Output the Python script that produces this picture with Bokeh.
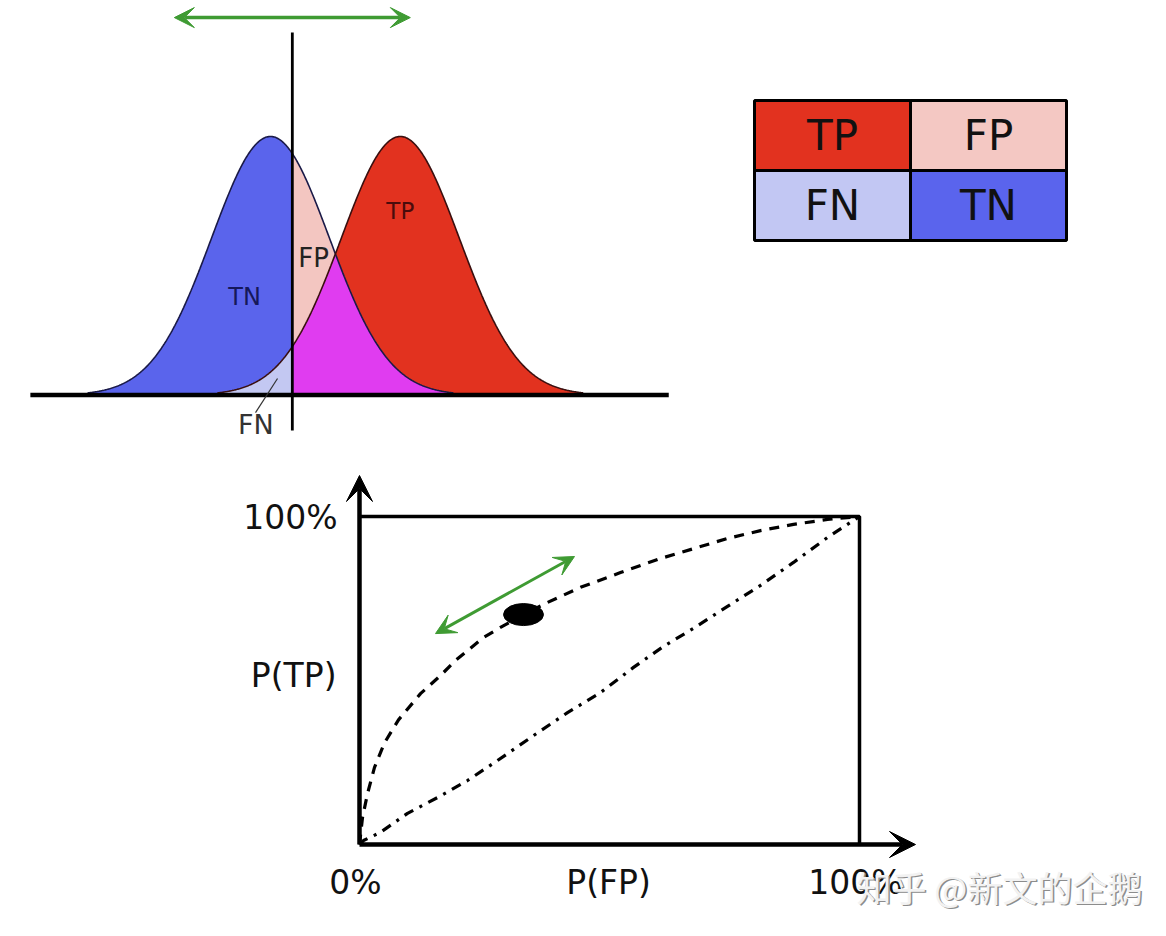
import numpy as np
from bokeh.plotting import figure
from bokeh.layouts import column, row
from bokeh.models import Range1d, Arrow, VeeHead
from bokeh.core.properties import value
from bokeh.embed import file_html
from bokeh.resources import INLINE

# ---------------- data ----------------
# class-score distributions (in units of sigma)
neg_mean = 0.0
pos_mean = 2.2
sigma = 1.0
threshold = 0.37
tail = 3.1

region_labels = ["TN", "FP", "TP", "FN"]
region_label_x = [-0.44, 0.73, 2.2, -0.25]
region_label_y = [0.38, 0.53, 0.71, -0.115]
region_label_colors = ["#16185a", "#222222", "#4a0c0c", "#333333"]
region_label_sizes = ["24px", "26px", "23px", "27px"]

# confusion matrix
cm_labels = ["TP", "FP", "FN", "TN"]
cm_col = [0, 1, 0, 1]
cm_row = [1, 1, 0, 0]
cm_colors = ["#e2321f", "#f4c8c3", "#c2c7f3", "#5a64ed"]

# ROC curve (dashed) and chance-like curve (dash-dot)
roc_fpr = [0.0, 0.006, 0.016, 0.030, 0.050, 0.078, 0.122, 0.162, 0.192, 0.248,
           0.282, 0.328, 0.376, 0.442, 0.522, 0.602, 0.668, 0.736, 0.802, 0.868,
           0.936, 1.0]
roc_tpr = [0.0, 0.082, 0.155, 0.235, 0.310, 0.380, 0.460, 0.515, 0.561, 0.631,
           0.662, 0.701, 0.738, 0.784, 0.829, 0.872, 0.902, 0.933, 0.957, 0.976,
           0.991, 1.0]
diag_fpr = [0.0, 0.008, 0.042, 0.096, 0.156, 0.216, 0.276, 0.348, 0.416, 0.482,
            0.548, 0.608, 0.668, 0.736, 0.802, 0.868, 0.936, 1.0]
diag_tpr = [0.0, 0.012, 0.037, 0.095, 0.143, 0.195, 0.256, 0.332, 0.402, 0.463,
            0.540, 0.604, 0.659, 0.726, 0.790, 0.860, 0.936, 1.0]
op_fpr = [0.328]
op_tpr = [0.701]

roc_tick_labels = ["0%", "100%"]
roc_axis_titles = ["P(FP)", "P(TP)"]

watermark = "知乎 @新文的企鹅"

FONT = value("DejaVu Sans")
GREEN = "#3f9b33"


def make_fig(w, h, xr, yr):
    p = figure(width=w, height=h, x_range=Range1d(*xr), y_range=Range1d(*yr),
               output_backend="svg", toolbar_location=None, min_border=0,
               x_axis_type=None, y_axis_type=None)
    p.grid.visible = False
    p.outline_line_color = None
    p.background_fill_color = "white"
    p.border_fill_color = "white"
    return p


def green_arrow(x0, y0, x1, y1, w, s):
    return Arrow(x_start=x0, y_start=y0, x_end=x1, y_end=y1,
                 line_color=GREEN, line_width=w,
                 start=VeeHead(size=s, fill_color=GREEN, line_color=GREEN, line_width=1),
                 end=VeeHead(size=s, fill_color=GREEN, line_color=GREEN, line_width=1))


# ---------------- distribution panel ----------------
pd_ = make_fig(700, 450, (-4.5763, 7.2881), (-0.2147, 1.5261))


def gauss(x, m):
    return np.exp(-0.5 * ((x - m) / sigma) ** 2)


xl = np.linspace(neg_mean - tail, threshold, 300)
xr = np.linspace(threshold, pos_mean + tail, 500)
bl, rl = gauss(xl, neg_mean), gauss(xl, pos_mean)
br, rr = gauss(xr, neg_mean), gauss(xr, pos_mean)
rl = np.where(xl >= pos_mean - tail, rl, 0.0)
br = np.where(xr <= neg_mean + tail, br, 0.0)

pd_.varea(x=xl, y1=0, y2=bl, fill_color="#5a64ec")
pd_.varea(x=xl, y1=0, y2=rl, fill_color="#c3c8f2")
pd_.varea(x=xr, y1=0, y2=rr, fill_color="#e2321f")
pd_.varea(x=xr, y1=np.minimum(br, rr), y2=br, fill_color="#f3c6c1")
pd_.varea(x=xr, y1=0, y2=np.minimum(br, rr), fill_color="#e03cf0")

xb = np.linspace(neg_mean - tail, neg_mean + tail, 500)
xp = np.linspace(pos_mean - tail, pos_mean + tail, 500)
pd_.line(xb, gauss(xb, neg_mean), line_color="#1a1a48", line_width=1.6)
pd_.line(xp, gauss(xp, pos_mean), line_color="#3a0f0f", line_width=1.6)

# baseline and threshold
pd_.line([-4.07, 6.75], [0, 0], line_color="black", line_width=4.5)
pd_.line([threshold, threshold], [-0.137, 1.402], line_color="black", line_width=2.8)

# FN leader
pd_.line([-0.254, 0.119], [-0.068, 0.064], line_color="#333333", line_width=1.2)

pd_.text(x=region_label_x, y=region_label_y, text=region_labels,
         text_color=region_label_colors, text_font=FONT,
         text_font_size=region_label_sizes,
         text_align="center", text_baseline="middle")

pd_.add_layout(green_arrow(threshold - 2.0, 1.46, threshold + 2.0, 1.46, 3.5, 20))

# ---------------- confusion matrix panel ----------------
pc = make_fig(450, 450, (-0.3462, 2.5385), (-3.0, 3.4286))
pc.quad(left=cm_col, right=[c + 1 for c in cm_col], bottom=cm_row,
        top=[r + 1 for r in cm_row], fill_color=cm_colors, line_color="black",
        line_width=3)
pc.text(x=[c + 0.5 for c in cm_col], y=[r + 0.5 for r in cm_row], text=cm_labels,
        text_color="#111111", text_font=FONT, text_font_size="42px",
        text_align="center", text_baseline="middle")

# ---------------- ROC panel ----------------
pr = make_fig(1150, 470, (-0.718, 1.582), (-0.2317, 1.2012))

pr.line([0, 1, 1], [1, 1, 0], line_color="black", line_width=3.5)
pr.add_layout(Arrow(x_start=0, y_start=0, x_end=0, y_end=1.125, line_color="black",
                    line_width=4.5,
                    end=VeeHead(size=26, fill_color="black", line_color="black")))
pr.add_layout(Arrow(x_start=0, y_start=0, x_end=1.112, y_end=0, line_color="black",
                    line_width=4.5,
                    end=VeeHead(size=26, fill_color="black", line_color="black")))

pr.line(diag_fpr, diag_tpr, line_color="black", line_width=3.2, line_dash="10 7 3 7")
pr.line(roc_fpr, roc_tpr, line_color="black", line_width=3.2, line_dash="10 8")
pr.ellipse(x=op_fpr, y=op_tpr, width=40, height=22, width_units="screen",
           height_units="screen", fill_color="black", line_color="black")

pr.add_layout(green_arrow(0.152, 0.643, 0.43, 0.878, 3, 20))

pr.text(x=[-0.008, 0.992], y=[-0.116, -0.116], text=roc_tick_labels,
        text_color="#111111", text_font=FONT, text_font_size="33px",
        text_align="center", text_baseline="middle")
pr.text(x=[0.498], y=[-0.116], text=[roc_axis_titles[0]],
        text_color="#111111", text_font=FONT, text_font_size="33px",
        text_align="center", text_baseline="middle")
pr.text(x=[-0.044, -0.046], y=[0.997, 0.515], text=[roc_tick_labels[1], roc_axis_titles[1]],
        text_color="#111111", text_font=FONT, text_font_size="33px",
        text_align="right", text_baseline="middle")

# watermark
pr.text(x=[0.994], y=[-0.128], text=[watermark], text_color="#8c8c8c",
        text_font=value("Noto Sans CJK SC"), text_font_size="35px",
        text_align="left", text_baseline="middle", x_offset=1.5, y_offset=1.5)
pr.text(x=[0.994], y=[-0.128], text=[watermark], text_color="#f2f2f2",
        text_font=value("Noto Sans CJK SC"), text_font_size="35px",
        text_align="left", text_baseline="middle")

layout = column(row(pd_, pc), pr)
open("out.html", "w").write(file_html(layout, INLINE))
